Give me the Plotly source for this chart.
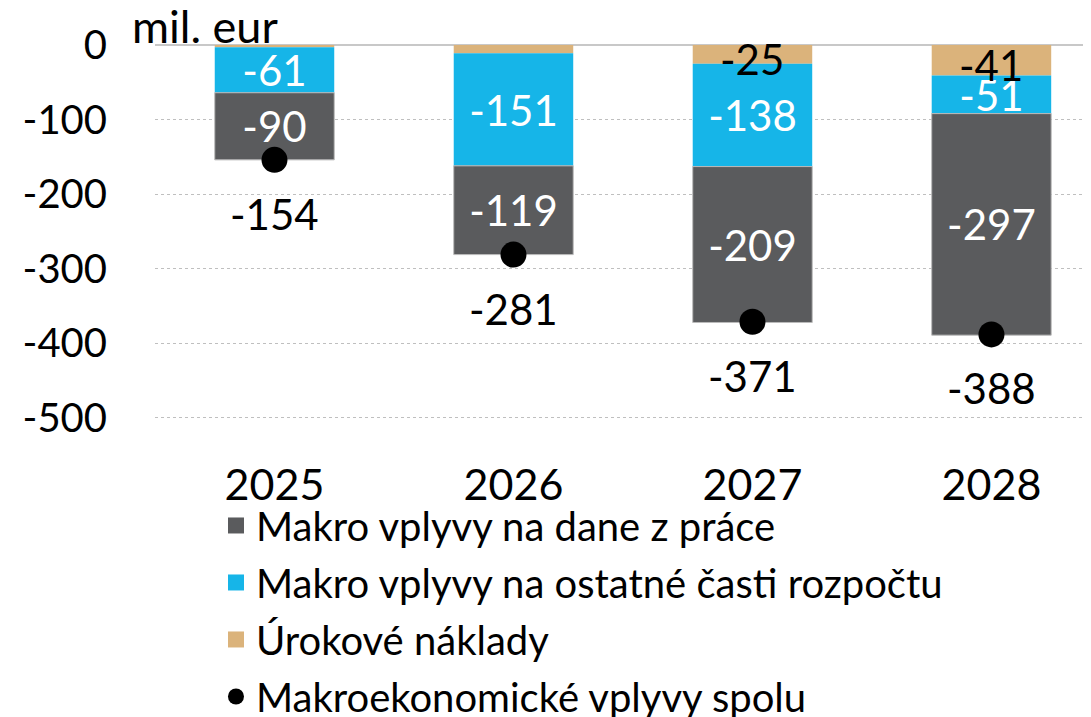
import plotly.graph_objects as go

years = ["2025", "2026", "2027", "2028"]
dane_prace = [-90, -119, -209, -297]
ostatne = [-61, -151, -138, -51]
urokove = [-3, -11, -25, -41]
spolu = [-154, -281, -371, -388]
urokove_labels = ["", "", "-25", "-41"]

names = ["Makro vplyvy na dane z práce",
         "Makro vplyvy na ostatné časti rozpočtu",
         "Úrokové náklady",
         "Makroekonomické vplyvy spolu"]
c_gray = "#5A5B5D"
c_blue = "#16B5E8"
c_tan = "#DBB37B"

FONT = "Lato"
LBL = 42
fig = go.Figure()

# stacked bars: first trace nearest zero
fig.add_trace(go.Bar(x=years, y=urokove, marker=dict(color=c_tan, line=dict(width=0)),
                     showlegend=False, width=0.5))
fig.add_trace(go.Bar(x=years, y=ostatne, marker=dict(color=c_blue, line=dict(width=0)),
                     text=[str(v) for v in ostatne], textposition="inside", insidetextanchor="middle",
                     constraintext="none", textfont=dict(color="white", size=LBL, family=FONT),
                     showlegend=False, width=0.5))
fig.add_trace(go.Bar(x=years, y=dane_prace, marker=dict(color=c_gray, line=dict(width=1, color="#BBBBBB")),
                     text=[str(v) for v in dane_prace], textposition="inside", insidetextanchor="middle",
                     constraintext="none", textfont=dict(color="white", size=LBL, family=FONT),
                     showlegend=False, width=0.5))
fig.add_trace(go.Scatter(x=years, y=spolu, mode="markers",
                         marker=dict(color="black", size=26), showlegend=False))

# interest-cost labels (drawn on top of the stack)
for i, (v, t) in enumerate(zip(urokove, urokove_labels)):
    if t:
        fig.add_annotation(x=i, y=v / 2, text=t, showarrow=False, yshift=-5,
                           font=dict(size=LBL, color="black", family=FONT))

# total labels below the dots
for i, tv in enumerate(spolu):
    fig.add_annotation(x=i, y=tv, text=str(tv), showarrow=False, yshift=-54,
                       font=dict(size=LBL, color="black", family=FONT))

# legend entries
leg = [(names[0], "square", c_gray), (names[1], "square", c_blue),
       (names[2], "square", c_tan), (names[3], "circle", "black")]
for k, (nm, sym, col) in enumerate(leg):
    fig.add_trace(go.Scatter(x=[None], y=[None], mode="markers", name=nm, legendgroup=f"g{k}",
                             marker=dict(symbol=sym, color=col, size=22)))

fig.add_annotation(xref="paper", yref="paper", x=-0.026, y=1, xanchor="left", yanchor="middle",
                   yshift=19, text="mil. eur", showarrow=False,
                   font=dict(size=45, color="black", family=FONT))

fig.update_layout(
    width=1091, height=717,
    barmode="relative",
    plot_bgcolor="white", paper_bgcolor="white",
    margin=dict(l=147, r=0, t=37, b=269),
    font=dict(family=FONT, color="black", size=38),
    legend=dict(orientation="v", x=0.0646, xanchor="left", yref="container", y=0.3236, yanchor="top",
                font=dict(size=40, family=FONT), itemsizing="trace", tracegroupgap=2,
                bgcolor="rgba(0,0,0,0)"),
    xaxis=dict(type="category", range=[-0.5, 3.45], showgrid=False, showline=False,
               ticks="", tickfont=dict(size=43, family=FONT), automargin=False),
    yaxis=dict(range=[-551, 0], tickvals=[0, -100, -200, -300, -400, -500],
               ticktext=["0", "-100", "-200", "-300", "-400", "-500"],
               showgrid=True, gridcolor="#BFBFBF", griddash="dot", gridwidth=1.3,
               zeroline=True, zerolinecolor="#C8C8C8", zerolinewidth=2, automargin=False,
               ticklabelstandoff=47, tickfont=dict(size=40, family=FONT)),
)

fig.write_html("out.html")
